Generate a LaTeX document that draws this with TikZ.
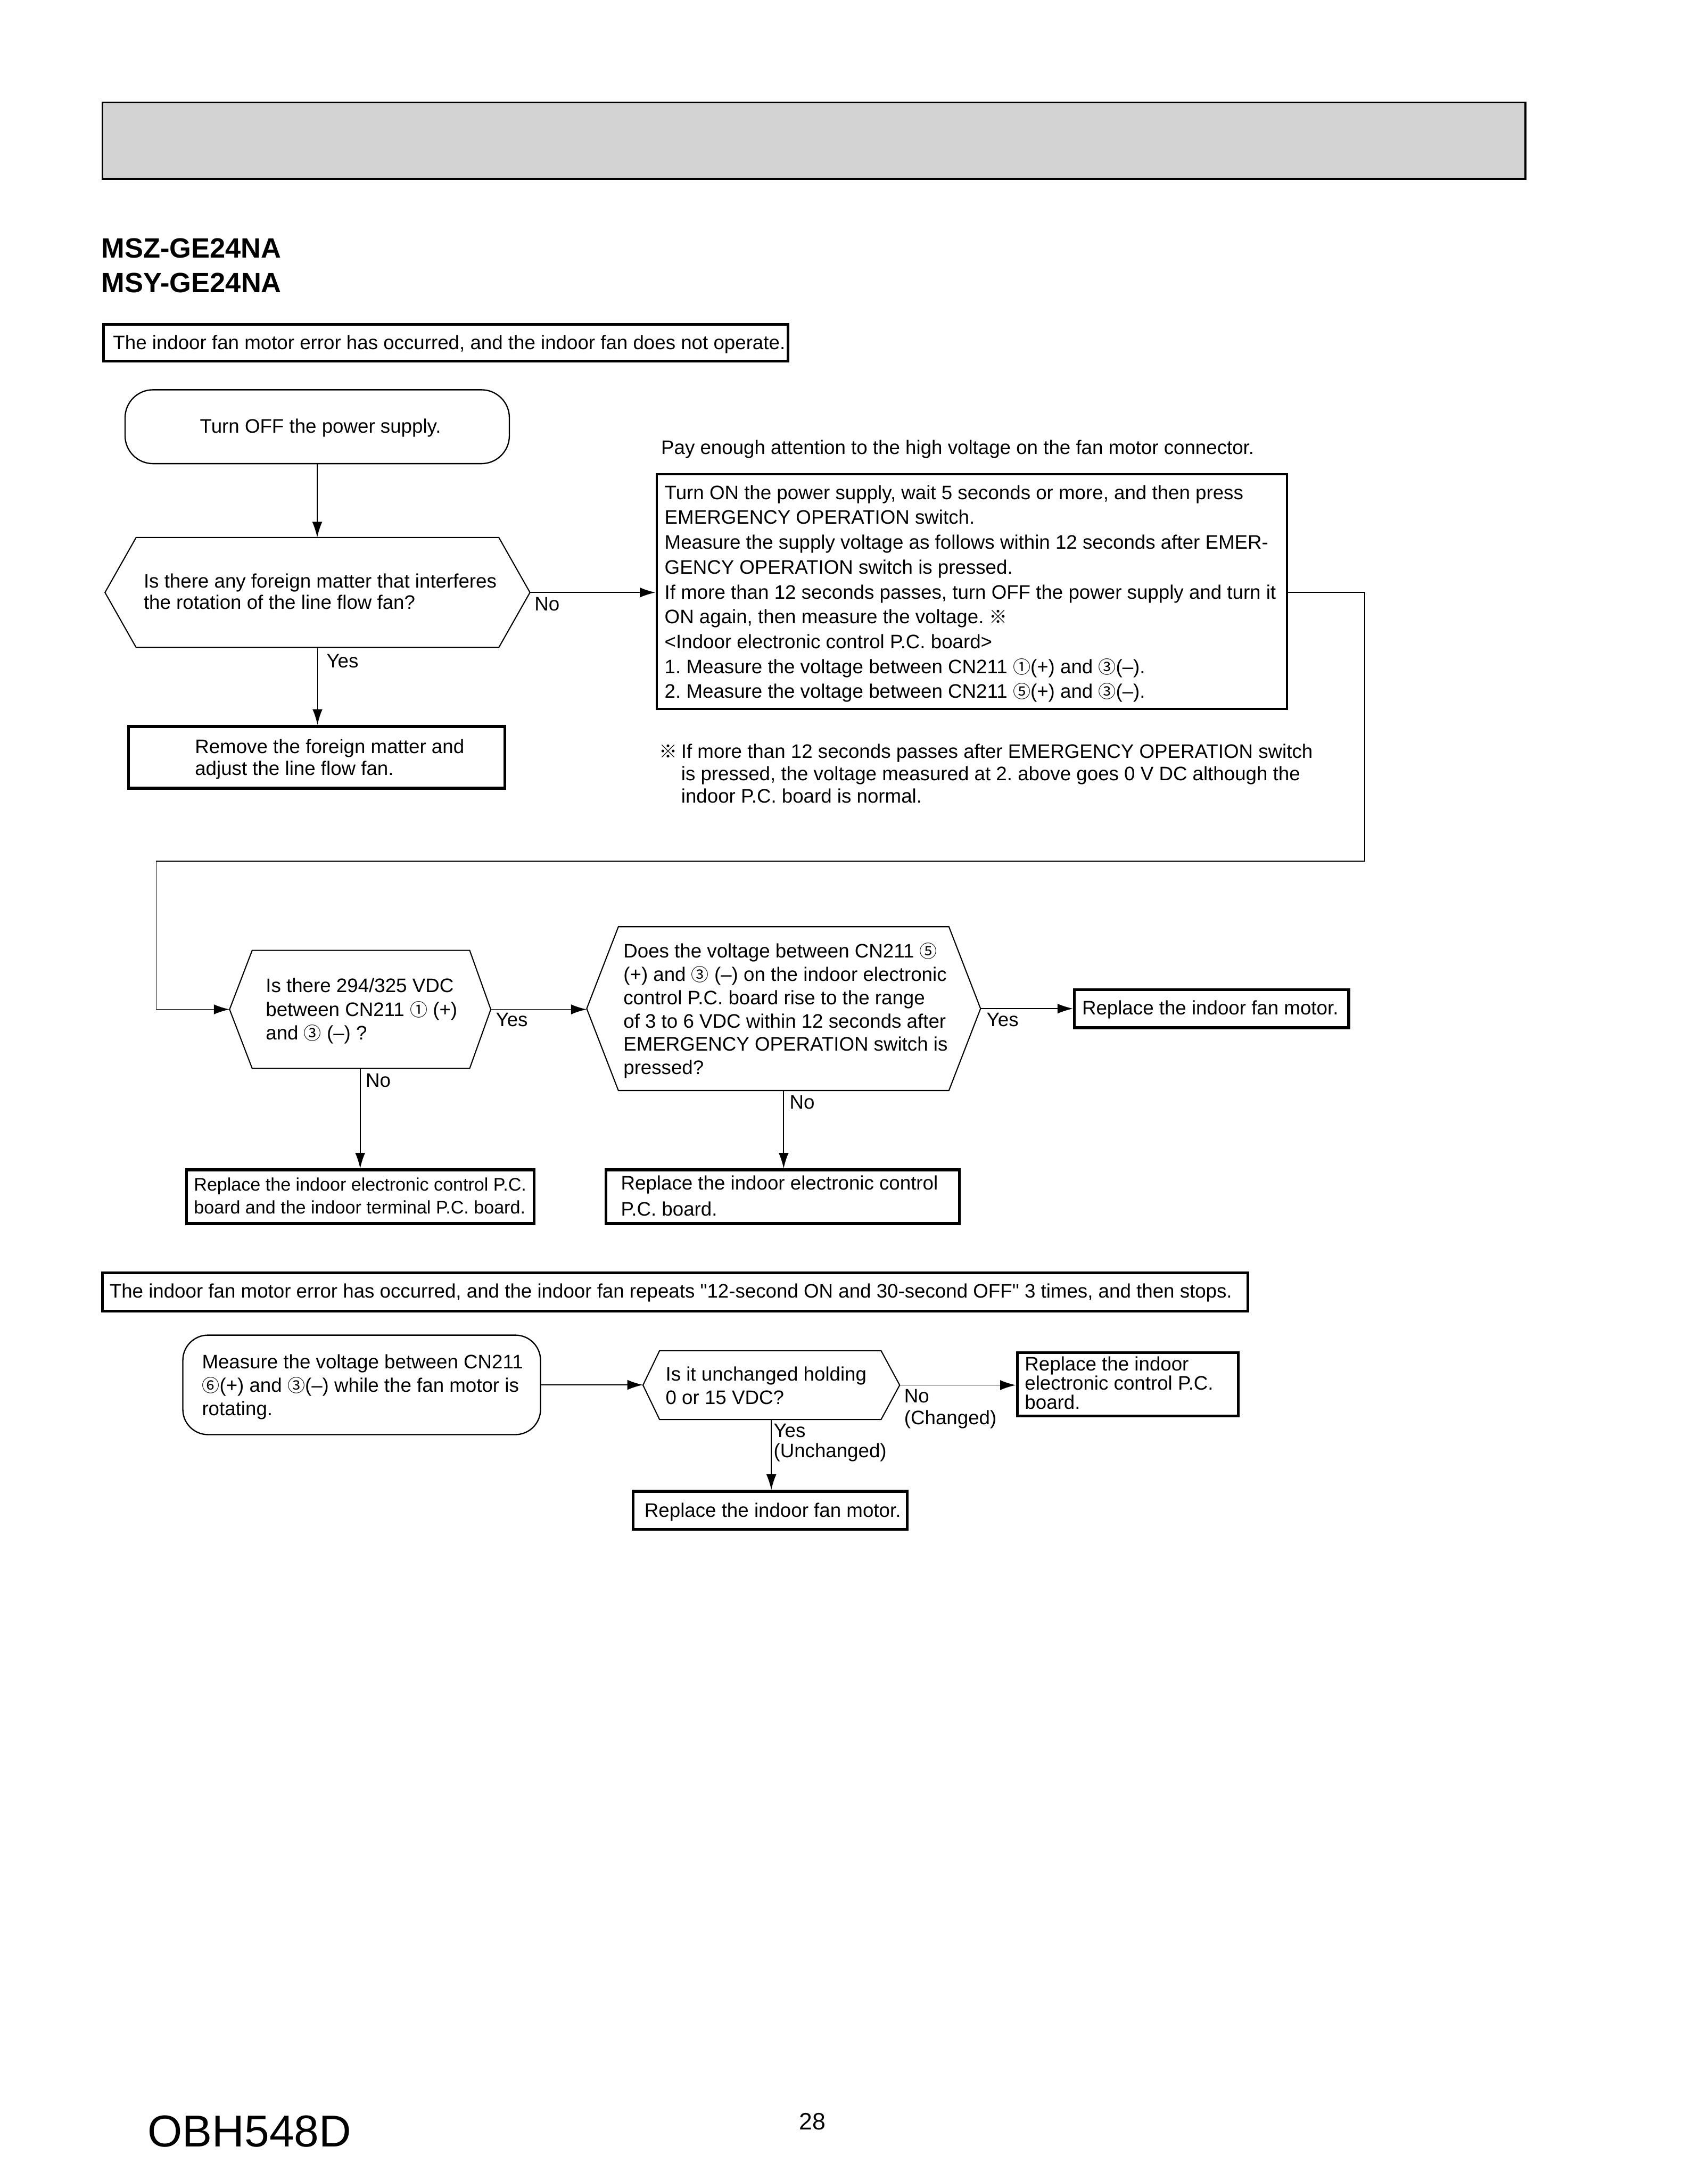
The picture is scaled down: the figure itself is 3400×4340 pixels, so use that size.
\documentclass[tikz,border=0pt]{standalone}
\usepackage{fontspec}
\setmainfont{Liberation Sans}
\newfontfamily\cjkf{Noto Sans CJK JP}
\usetikzlibrary{arrows.meta}
\definecolor{hdrgray}{HTML}{D3D3D3}
\newcommand\cn[1]{{\cjkf\fontsize{6.3pt}{6.3pt}\selectfont #1}}
\newcommand\refm{{\cjkf\fontsize{6.5pt}{6.5pt}\selectfont ※}}
\newcommand\ML[2]{\vtop{\baselineskip=#1\lineskiplimit=-\maxdimen\halign{##\hfil\cr#2\crcr}}}
\newcommand\bx[6]{%
  \pgfmathsetmacro\bxw{(#5-#3)*0.18}%
  \pgfmathsetmacro\bxh{(#6-#4)*0.18}%
  \node[#2, minimum width=\bxw pt, minimum height=\bxh pt, inner sep=0pt] (#1) at ({(#3+#5)/2},{(#4+#6)/2}) {};}
\newcommand\hexa[7]{%
  \pgfmathsetmacro\hm{(#6+#7)/2}%
  \pgfmathsetmacro\hc{(#2+#5)/2}%
  \draw[hexs] (#2,\hm) -- (#3,#6) -- (#4,#6) -- (#5,\hm) -- (#4,#7) -- (#3,#7) -- cycle;
  \coordinate (#1-l) at (#2,\hm);
  \coordinate (#1-r) at (#5,\hm);
  \coordinate (#1-t) at (\hc,#6);
  \coordinate (#1-b) at (\hc,#7);}
\tikzset{
  txt/.style={anchor=base west, inner sep=0pt, font=\fontsize{7pt}{8.9pt}\selectfont},
  resbox/.style={draw, line width=1pt},
  bigbox/.style={draw, line width=0.75pt},
  termbox/.style={draw, line width=0.45pt, rounded corners=10pt},
  hexs/.style={draw, line width=0.4pt, line join=miter},
  conn/.style={line width=0.35pt},
  arr/.style={conn, -{Latex[length=5.6pt,width=3.6pt]}},
}
\begin{document}
\frenchspacing
\begin{tikzpicture}[x=0.18pt, y=-0.18pt]
\useasboundingbox (0,0) rectangle (3400,4340);
\fill[white] (0,0) rectangle (3400,4340);

% header
\bx{hdr}{bigbox, fill=hdrgray}{204}{204}{3037}{356}
\node[txt, font=\bfseries\fontsize{10pt}{12pt}\selectfont] (m1) at (201,513) {MSZ-GE24NA};
\node[txt, font=\bfseries\fontsize{10pt}{12pt}\selectfont] (m2) at (201,582) {MSY-GE24NA};

% section 1
\bx{cond1}{resbox}{206}{646}{1569}{719}
\node[txt] (cond1t) at (224,696) {The indoor fan motor error has occurred, and the indoor fan does not operate.};

\bx{s1}{termbox}{249}{776}{1014}{923}
\node[txt] (s1t) at (397,862) {Turn OFF the power supply.};

\hexa{h1}{209}{271}{993}{1055}{1070}{1289}
\node[txt] (h1t) at (285,1170) {\ML{7.75pt}{Is there any foreign matter that interferes\cr the rotation of the line flow fan?}};
\draw[arr] (s1.south) -- (s1.south |- h1-t);
\node[txt] (y1) at (649,1329) {Yes};
\node[txt] (n1) at (1063,1216) {No};

\bx{rm}{resbox, line width=1.08pt}{256}{1446}{1005}{1569}
\node[txt] (rmt) at (387,1500) {\ML{7.75pt}{Remove the foreign matter and\cr adjust the line flow fan.}};
\draw[arr] (h1-b) -- (h1-b |- rm.north);

\node[txt] (warn) at (1315,904) {Pay enough attention to the high voltage on the fan motor connector.};
\bx{bb}{bigbox}{1307}{944}{2562}{1411}
\node[txt] (bbt) at (1322,994) {\ML{8.91pt}{Turn ON the power supply, wait 5 seconds or more, and then press\cr
EMERGENCY OPERATION switch.\cr
Measure the supply voltage as follows within 12 seconds after EMER-\cr
GENCY OPERATION switch is pressed.\cr
If more than 12 seconds passes, turn OFF the power supply and turn it\cr
ON again, then measure the voltage. \refm\cr
<Indoor electronic control P.C. board>\cr
1. Measure the voltage between CN211 \cn{①}(+) and \cn{③}(–).\cr
2. Measure the voltage between CN211 \cn{⑤}(+) and \cn{③}(–).}};
\draw[arr] (h1-r) -- (h1-r -| bb.west);

\node[txt] (fnm) at (1311,1509) {\refm};
\node[txt] (fnt) at (1355,1509) {\ML{8.0pt}{If more than 12 seconds passes after EMERGENCY OPERATION switch\cr
is pressed, the voltage measured at 2. above goes 0 V DC although the\cr
indoor P.C. board is normal.}};

\hexa{h2}{457}{502}{935}{977}{1892}{2127}
\coordinate (c1) at (2717,1714);
\coordinate (c2) at (311,1714);
\draw[arr] (bb.east |- h1-r) -| (c1) -- (c2) |- (h2-l);
\node[txt] (h2t) at (528,1976) {\ML{8.46pt}{Is there 294/325 VDC\cr between CN211 \cn{①} (+)\cr and \cn{③} (–) ?}};
\node[txt] (y2) at (986,2043) {Yes};

\hexa{h3}{1168}{1231}{1889}{1952}{1845}{2171}
\draw[arr] (h2-r) -- (h2-r -| h3-l);
\node[txt] (h3t) at (1240,1907) {\ML{8.35pt}{Does the voltage between CN211 \cn{⑤}\cr
(+) and \cn{③} (–) on the indoor electronic\cr
control P.C. board rise to the range\cr
of 3 to 6 VDC within 12 seconds after\cr
EMERGENCY OPERATION switch is\cr
pressed?}};
\node[txt] (y3) at (1963,2043) {Yes};
\bx{fm1}{resbox}{2139}{1970}{2685}{2046}
\node[txt] (fm1t) at (2153,2020) {Replace the indoor fan motor.};
\draw[arr] (h3-r) -- (h3-r -| fm1.west);

\node[txt] (n2) at (727,2164) {No};
\bx{pc1}{resbox}{371}{2329}{1063}{2436}
\node[txt, font=\fontsize{6.5pt}{8pt}\selectfont] (pc1t) at (385,2371) {\ML{8.1pt}{Replace the indoor electronic control P.C.\cr board and the indoor terminal P.C. board.}};
\draw[arr] (h2-b) -- (h2-b |- pc1.north);

\node[txt] (n3) at (1571,2208) {No};
\bx{pc2}{resbox}{1206}{2329}{1910}{2436}
\node[txt] (pc2t) at (1235,2369) {\ML{9.2pt}{Replace the indoor electronic control\cr P.C. board.}};
\draw[arr] (h3-b) -- (h3-b |- pc2.north);

% section 2
\bx{cond2}{resbox}{204}{2534}{2484}{2610}
\node[txt] (cond2t) at (217,2584) {The indoor fan motor error has occurred, and the indoor fan repeats \textquotedbl 12-second ON and 30-second OFF\textquotedbl\ 3 times, and then stops.};

\bx{s2}{termbox, rounded corners=9pt}{364}{2658}{1076}{2856}
\node[txt] (s2t) at (401,2725) {\ML{8.37pt}{Measure the voltage between CN211\cr \cn{⑥}(+) and \cn{③}(–) while the fan motor is\cr rotating.}};

\hexa{h4}{1280}{1313}{1754}{1791}{2689}{2826}
\draw[arr] (s2.east) -- (s2.east -| h4-l);
\node[txt] (h4t) at (1324,2749) {\ML{8.3pt}{Is it unchanged holding\cr 0 or 15 VDC?}};
\node[txt] (n4) at (1799,2792) {\ML{7.9pt}{No\cr (Changed)}};
\bx{pc3}{resbox}{2025}{2693}{2465}{2819}
\node[txt] (pc3t) at (2039,2729) {\ML{6.9pt}{Replace the indoor\cr electronic control P.C.\cr board.}};
\draw[arr] (h4-r) -- (h4-r -| pc3.west);
\node[txt] (y4) at (1539,2861) {\ML{7.4pt}{Yes\cr (Unchanged)}};
\bx{fm2}{resbox}{1260}{2969}{1806}{3045}
\node[txt] (fm2t) at (1282,3020) {Replace the indoor fan motor.};
\draw[arr] (h4-b) -- (h4-b |- fm2.north);

% footer
\node[txt, font=\fontsize{16pt}{18pt}\selectfont] (doc) at (293,4274) {OBH548D};
\node[txt, font=\fontsize{8.5pt}{10pt}\selectfont] (pg) at (1590,4240) {28};
\end{tikzpicture}
\end{document}
